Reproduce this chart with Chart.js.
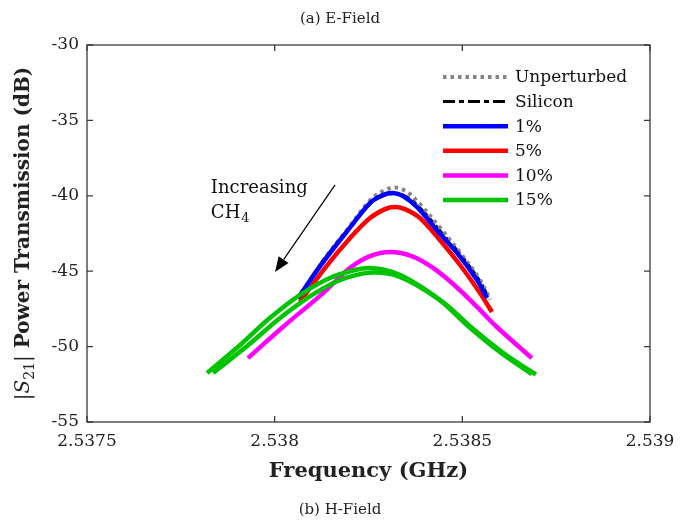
<!DOCTYPE html>
<html>
<head>
<meta charset="utf-8">
<script src="https://cdn.jsdelivr.net/npm/chart.js@4.4.0/dist/chart.umd.min.js"></script>
<style>
  html, body { margin: 0; padding: 0; background: #fff; }
</style>
</head>
<body>
<canvas id="myChart" width="688" height="522"></canvas>
<script>
(function () {
  'use strict'

// frequencies (GHz) and |S21| (dB)
var unpertF  = [2.538062, 2.538129, 2.538201, 2.538254, 2.538288, 2.538320, 2.538350, 2.538385, 2.538440, 2.538495, 2.538545, 2.538575]
var unpertDb = [-46.8, -44.3, -42.0, -40.3, -39.7, -39.45, -39.7, -40.5, -42.1, -43.8, -45.5, -46.9]

var siliconF  = [2.538062, 2.538129, 2.538201, 2.538254, 2.538290, 2.538320, 2.538350, 2.538385, 2.538440, 2.538495, 2.538545, 2.538572]
var siliconDb = [-46.8, -44.3, -42.1, -40.5, -40.0, -39.85, -40.05, -40.75, -42.3, -43.9, -45.6, -46.85]

var p1F  = [2.538062, 2.538129, 2.538201, 2.538254, 2.538288, 2.538315, 2.538342, 2.538379, 2.538432, 2.538486, 2.538539, 2.538566]
var p1Db = [-46.78, -44.4, -42.1, -40.48, -39.95, -39.81, -40.01, -40.74, -42.27, -43.79, -45.58, -46.78]

var p5F  = [2.538067, 2.538134, 2.538201, 2.538254, 2.538294, 2.538320, 2.538347, 2.538387, 2.538440, 2.538494, 2.538547, 2.538579]
var p5Db = [-47.04, -44.79, -42.80, -41.47, -40.88, -40.74, -40.88, -41.47, -42.93, -44.59, -46.45, -47.71]

var p10F  = [2.537929, 2.538022, 2.538129, 2.538201, 2.538254, 2.538308, 2.538365, 2.538420, 2.538480, 2.538539, 2.538592, 2.538685]
var p10Db = [-50.76, -48.70, -46.45, -44.78, -44.0, -43.73, -44.0, -44.75, -45.95, -47.37, -48.70, -50.76]

var p15aF  = [2.537820, 2.537908, 2.537987, 2.538067, 2.538147, 2.538214, 2.538254, 2.538307, 2.538360, 2.538440, 2.538512, 2.538600, 2.538685]
var p15aDb = [-51.75, -49.89, -48.10, -46.58, -45.45, -44.92, -44.79, -44.99, -45.58, -46.91, -48.57, -50.36, -51.82]

var p15bF  = [2.537836, 2.537930, 2.538012, 2.538092, 2.538168, 2.538230, 2.538267, 2.538320, 2.538373, 2.538453, 2.538525, 2.538613, 2.538696]
var p15bDb = [-51.75, -49.90, -48.15, -46.70, -45.65, -45.18, -45.08, -45.25, -45.85, -47.15, -48.75, -50.50, -51.85]

var xTicks = [2.5375, 2.538, 2.5385, 2.539]
var yTicks = [-55, -50, -45, -40, -35, -30]

var legendLabels = ['Unperturbed', 'Silicon', '1%', '5%', '10%', '15%']

function pts(f, d) {
  return f.map(function (v, i) { return { x: v, y: d[i] } })
}

const SERIF = "'DejaVu Serif', serif"

const ctx = document.getElementById('myChart').getContext('2d');

// datasets: lower 'order' is drawn on top
const datasets = [
  { label: '15%', data: pts(p15aF, p15aDb), borderColor: '#00c400', borderWidth: 4.5, order: 1, legend: 5 },
  { label: '15% b', data: pts(p15bF, p15bDb), borderColor: '#00c400', borderWidth: 4.5, order: 0 },
  { label: '10%', data: pts(p10F, p10Db), borderColor: '#ff00ff', borderWidth: 4.5, order: 2, legend: 4 },
  { label: '5%', data: pts(p5F, p5Db), borderColor: '#ff0000', borderWidth: 4.5, order: 6, legend: 3 },
  { label: '1%', data: pts(p1F, p1Db), borderColor: '#0000ff', borderWidth: 4.5, order: 3, legend: 2 },
  { label: 'Silicon', data: pts(siliconF, siliconDb), borderColor: '#000000', borderWidth: 3, borderDash: [12, 4, 5, 4], order: 5, legend: 1 },
  { label: 'Unperturbed', data: pts(unpertF, unpertDb), borderColor: '#858585', borderWidth: 4, borderDash: [3.5, 4], order: 4, legend: 0 },
]
datasets.forEach(function (d) {
  d.fill = false
  d.pointRadius = 0
  d.tension = 0.35
  d.borderCapStyle = 'butt'
})

// annotation anchors in data units
const arrowFrom = { x: 2.538161, y: -39.28 }
const arrowTo = { x: 2.538001, y: -45.05 }
const noteAt = { x: 2.53783, y: -39.4 }

const framePlugin = {
  id: 'frame',
  afterDraw(chart) {
    const c = chart.ctx
    const a = chart.chartArea
    const xs = chart.scales.x
    const ys = chart.scales.y
    c.save()

    // box + inward ticks
    c.strokeStyle = '#3a3a3a'
    c.lineWidth = 1.3
    c.strokeRect(a.left, a.top, a.right - a.left, a.bottom - a.top)
    c.beginPath()
    xTicks.forEach(function (v) {
      const px = xs.getPixelForValue(v)
      c.moveTo(px, a.bottom); c.lineTo(px, a.bottom - 6)
      c.moveTo(px, a.top); c.lineTo(px, a.top + 6)
    })
    yTicks.forEach(function (v) {
      const py = ys.getPixelForValue(v)
      c.moveTo(a.left, py); c.lineTo(a.left + 6, py)
      c.moveTo(a.right, py); c.lineTo(a.right - 6, py)
    })
    c.stroke()

    c.fillStyle = '#222'
    // captions
    c.textAlign = 'center'
    c.textBaseline = 'alphabetic'
    c.font = '15px ' + SERIF
    c.fillText('(a) E-Field', 340, 23)
    c.fillText('(b) H-Field', 340, 514)

    // x title
    c.font = 'bold 21px ' + SERIF
    c.fillText('Frequency (GHz)', (a.left + a.right) / 2, 477)

    // y title, rotated, with subscript
    c.save()
    c.translate(29, (a.top + a.bottom) / 2)
    c.rotate(-Math.PI / 2)
    c.textAlign = 'left'
    const parts = [
      { t: '|', f: '20px ' + SERIF, dy: 0 },
      { t: 'S', f: 'italic 20px ' + SERIF, dy: 0 },
      { t: '21', f: '14px ' + SERIF, dy: 5 },
      { t: '|', f: '20px ' + SERIF, dy: 0 },
      { t: ' Power Transmission (dB)', f: 'bold 20px ' + SERIF, dy: 0 },
    ]
    let total = 0
    parts.forEach(function (p) { c.font = p.f; p.w = c.measureText(p.t).width; total += p.w })
    let cx = -total / 2
    parts.forEach(function (p) {
      c.font = p.f
      c.fillText(p.t, cx, p.dy)
      cx += p.w
    })
    c.restore()

    // legend
    const order = datasets.filter(function (d) { return d.legend !== undefined })
      .sort(function (p, q) { return p.legend - q.legend })
    c.font = '17px ' + SERIF
    c.textAlign = 'left'
    c.textBaseline = 'middle'
    order.forEach(function (d, i) {
      const y = 77 + i * 24.6
      c.save()
      c.strokeStyle = d.borderColor
      c.lineWidth = d.borderWidth
      c.setLineDash(d.borderDash || [])
      c.beginPath()
      c.moveTo(443, y); c.lineTo(508, y)
      c.stroke()
      c.restore()
      c.fillStyle = '#111'
      c.fillText(legendLabels[d.legend], 515, y + 1)
    })

    // annotation
    const fx = xs.getPixelForValue(arrowFrom.x), fy = ys.getPixelForValue(arrowFrom.y)
    const tx = xs.getPixelForValue(arrowTo.x), ty = ys.getPixelForValue(arrowTo.y)
    const ang = Math.atan2(ty - fy, tx - fx)
    const hl = 15, hw = 6
    const bx = tx - hl * Math.cos(ang), by = ty - hl * Math.sin(ang)
    c.strokeStyle = '#000'
    c.lineWidth = 1.2
    c.setLineDash([])
    c.beginPath()
    c.moveTo(fx, fy); c.lineTo(bx, by)
    c.stroke()
    c.fillStyle = '#000'
    c.beginPath()
    c.moveTo(tx, ty)
    c.lineTo(bx + hw * Math.sin(ang), by - hw * Math.cos(ang))
    c.lineTo(bx - hw * Math.sin(ang), by + hw * Math.cos(ang))
    c.closePath()
    c.fill()

    const nx = xs.getPixelForValue(noteAt.x), ny = ys.getPixelForValue(noteAt.y)
    c.fillStyle = '#111'
    c.textBaseline = 'alphabetic'
    c.font = '18px ' + SERIF
    c.fillText('Increasing', nx, ny + 6)
    c.fillText('CH', nx, ny + 31)
    const chw = c.measureText('CH').width
    c.font = '13px ' + SERIF
    c.fillText('4', nx + chw + 1, ny + 35)

    c.restore()
  }
}

new Chart(ctx, {
  type: 'line',
  data: { datasets: datasets },
  options: {
    responsive: false,
    animation: false,
    layout: { padding: { top: 45, right: 38, left: 0, bottom: 0 } },
    plugins: { legend: { display: false }, tooltip: { enabled: false }, title: { display: false } },
    scales: {
      x: {
        type: 'linear',
        min: 2.5375,
        max: 2.539,
        afterBuildTicks: function (s) { s.ticks = xTicks.map(function (v) { return { value: v } }) },
        afterFit: function (s) { s.height = 100 },
        grid: { display: false, drawTicks: false },
        border: { display: false },
        ticks: {
          padding: 9,
          color: '#222',
          font: { family: SERIF, size: 17 },
          maxRotation: 0,
          callback: function (v) { return String(+Number(v).toFixed(4)) }
        }
      },
      y: {
        type: 'linear',
        min: -55,
        max: -30,
        afterBuildTicks: function (s) { s.ticks = yTicks.map(function (v) { return { value: v } }) },
        afterFit: function (s) { s.width = 87 },
        grid: { display: false, drawTicks: false },
        border: { display: false },
        ticks: {
          padding: 8,
          color: '#222',
          font: { family: SERIF, size: 17 },
          callback: function (v) { return String(v) }
        }
      }
    }
  },
  plugins: [framePlugin]
});

})()
</script>
</body>
</html>
